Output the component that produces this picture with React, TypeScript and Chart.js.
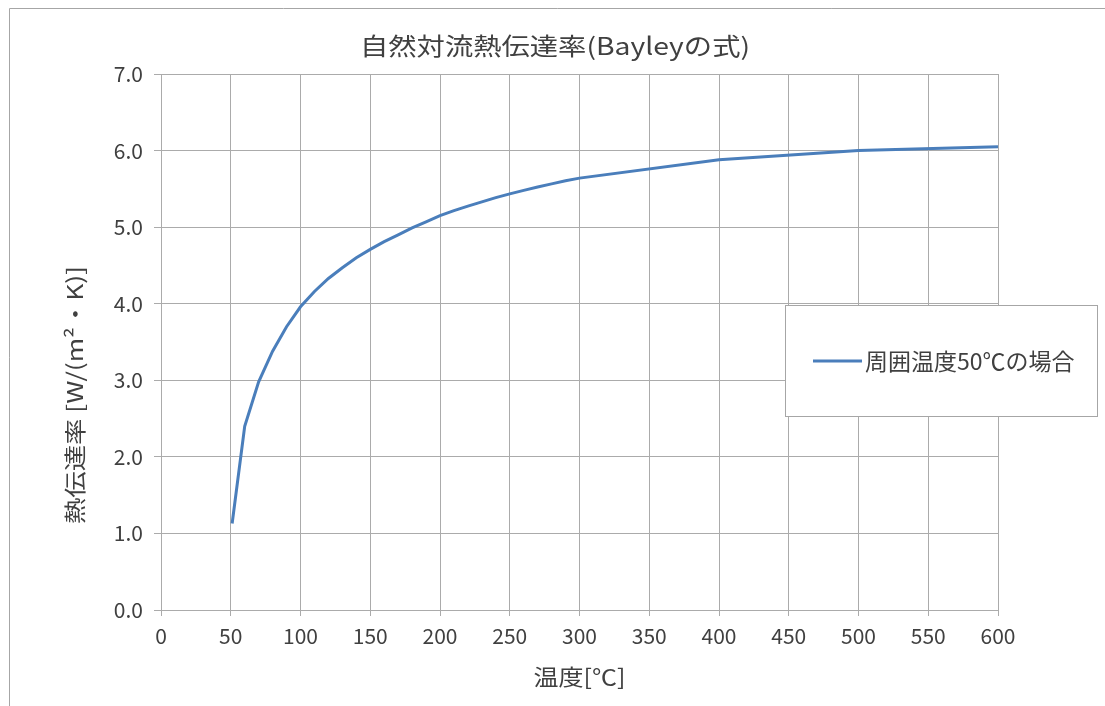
import React, { useEffect, useRef } from "react";
import { Chart, registerables } from "chart.js";

Chart.register(...registerables);

const chartTitle = "自然対流熱伝達率(Bayleyの式)";
const xAxisTitle = "温度[℃]";
const yAxisTitle = "熱伝達率 [W/(m²・K)]";
const seriesName = "周囲温度50℃の場合";

const temperatures = [
  51, 60, 70, 80, 90, 100, 110, 120, 130, 140, 150, 160, 170, 180, 190, 200,
  210, 220, 230, 240, 250, 260, 270, 280, 290, 300, 400, 500, 600,
];
const heatTransfer = [
  1.13, 2.4, 2.98, 3.38, 3.7, 3.96, 4.16, 4.33, 4.47, 4.6, 4.71, 4.81, 4.9,
  4.99, 5.07, 5.15, 5.215, 5.275, 5.33, 5.385, 5.435, 5.48, 5.525, 5.565,
  5.605, 5.64, 5.88, 6.0, 6.05,
];

const FONT = '"Noto Sans CJK JP", "Noto Sans", sans-serif';
const LINE_COLOR = "#4a7ebb";
const GRID_COLOR = "#ababab";
const TEXT_COLOR = "#404040";

function fitText(ctx: any, text: string, x: number, y: number, width: number) {
  const w = ctx.measureText(text).width;
  ctx.save();
  ctx.translate(x, y);
  ctx.scale(width / w, 1);
  ctx.fillText(text, 0, 0);
  ctx.restore();
}

const decorPlugin = {
  id: "decor",
  afterDraw(chart: any) {
    const { ctx, chartArea } = chart;
    ctx.save();
    // outer frame (top + left)
    ctx.strokeStyle = "#a6a6a6";
    ctx.lineWidth = 1;
    ctx.beginPath();
    ctx.moveTo(9.5, 706);
    ctx.lineTo(9.5, 8.5);
    ctx.lineTo(1105, 8.5);
    ctx.stroke();

    // title
    ctx.fillStyle = TEXT_COLOR;
    ctx.textAlign = "center";
    ctx.textBaseline = "middle";
    ctx.font = `24px ${FONT}`;
    fitText(ctx, chartTitle, 555, 46, 390);

    // x axis title
    ctx.font = `22px ${FONT}`;
    fitText(ctx, xAxisTitle, (chartArea.left + chartArea.right) / 2, 677, 92);

    // y axis title
    ctx.save();
    ctx.translate(75, 395);
    ctx.rotate(-Math.PI / 2);
    fitText(ctx, yAxisTitle, 0, 0, 258);
    ctx.restore();

    // legend box
    const bx = 785.5, by = 305.5, bw = 312, bh = 111;
    ctx.fillStyle = "#ffffff";
    ctx.fillRect(bx, by, bw, bh);
    ctx.strokeStyle = "#a6a6a6";
    ctx.lineWidth = 1;
    ctx.strokeRect(bx, by, bw, bh);
    ctx.strokeStyle = LINE_COLOR;
    ctx.lineWidth = 3;
    ctx.beginPath();
    ctx.moveTo(813, 361);
    ctx.lineTo(862, 361);
    ctx.stroke();
    ctx.fillStyle = TEXT_COLOR;
    ctx.textAlign = "left";
    ctx.font = `23px ${FONT}`;
    ctx.fillText(seriesName, 865, 361);
    ctx.restore();
  },
};

export default function App() {
  const canvasRef = useRef<HTMLCanvasElement | null>(null);

  useEffect(() => {
    if (!canvasRef.current) return;
    const chart = new Chart(canvasRef.current, {
      type: "scatter",
      data: {
        datasets: [
          {
            label: seriesName,
            data: temperatures.map((t, i) => ({ x: t, y: heatTransfer[i] })),
            showLine: true,
            borderColor: LINE_COLOR,
            backgroundColor: LINE_COLOR,
            borderWidth: 3,
            pointRadius: 0,
            tension: 0,
          },
        ],
      },
      options: {
        responsive: false,
        animation: false,
        layout: { padding: { top: 74, right: 107, bottom: 0, left: 0 } },
        plugins: {
          legend: { display: false },
          title: { display: false },
          tooltip: { enabled: false },
        },
        scales: {
          x: {
            type: "linear",
            min: 0,
            max: 600,
            afterFit: (s: any) => {
              s.height = 96;
            },
            ticks: {
              stepSize: 50,
              padding: 7,
              color: TEXT_COLOR,
              font: { family: FONT, size: 21 },
              maxRotation: 0,
            },
            grid: { color: GRID_COLOR, tickLength: 6, lineWidth: 1 },
            border: { color: GRID_COLOR },
          },
          y: {
            type: "linear",
            min: 0,
            max: 7,
            afterFit: (s: any) => {
              s.width = 161;
            },
            ticks: {
              stepSize: 1,
              padding: 11,
              color: TEXT_COLOR,
              font: { family: FONT, size: 21 },
              callback: (v: any) => Number(v).toFixed(1),
            },
            grid: { color: GRID_COLOR, tickLength: 7, lineWidth: 1 },
            border: { color: GRID_COLOR },
          },
        },
      },
      plugins: [decorPlugin],
    });
    return () => chart.destroy();
  }, []);

  return (
    <div style={{ position: "absolute", left: 0, top: 0, width: 1105, height: 706, background: "#fff" }}>
      <canvas ref={canvasRef} width={1105} height={706} style={{ display: "block" }} />
    </div>
  );
}
